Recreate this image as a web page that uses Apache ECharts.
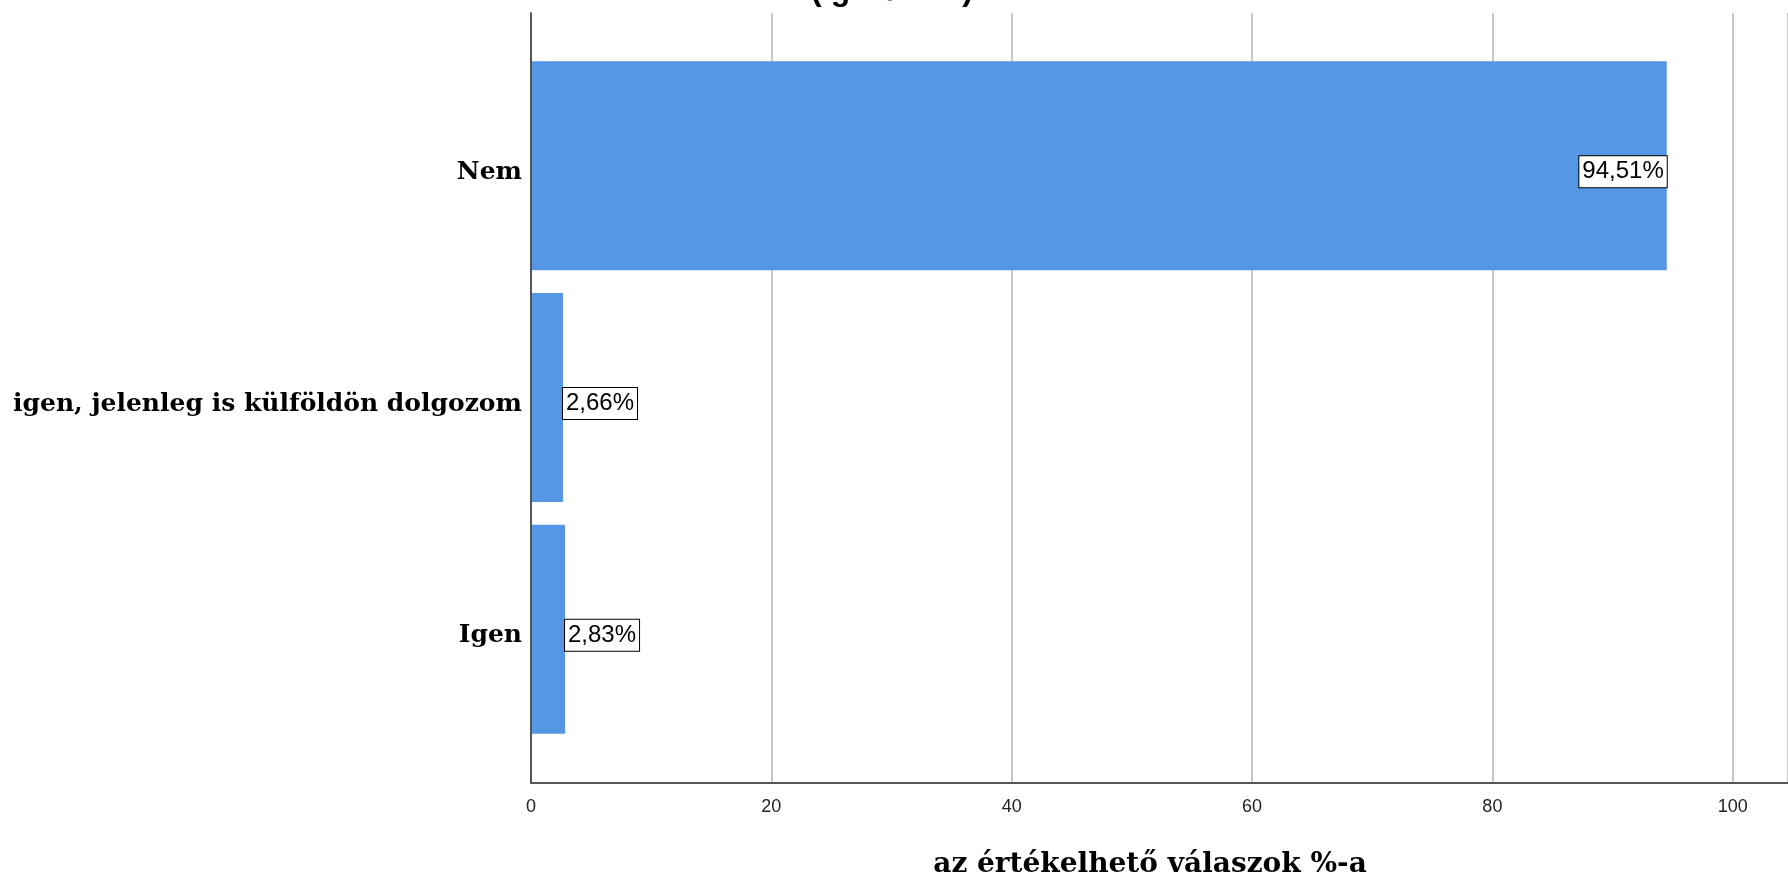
<!DOCTYPE html>
<html>
<head>
<meta charset="utf-8">
<script src="https://cdn.jsdelivr.net/npm/echarts@6/dist/echarts.min.js"></script>
<style>
html,body{margin:0;padding:0;background:#fff;}
#chart{width:1788px;height:877px;}
</style>
</head>
<body>
<div id="chart"></div>
<script>
// Data
const categories = ['Nem', 'igen, jelenleg is külföldön dolgozom', 'Igen'];
const percentValues = [94.51, 2.66, 2.83];
const xTickValues = [0, 20, 40, 60, 80, 100];
const chartTitle = '(igen/nem)';
const xAxisTitle = 'az értékelhető válaszok %-a';

const serif = '"DejaVu Serif", serif';
const sans = '"Liberation Sans", Arial, sans-serif';
const xMax = 104.6;

const barData = percentValues.map(v => ({
  value: v,
  label: v > 50 ? { position: 'insideRight', distance: 0 } : { position: 'right', distance: 0 }
}));

const chart = echarts.init(document.getElementById('chart'));
chart.setOption({
  animation: false,
  backgroundColor: '#ffffff',
  grid: [
    { left: 531, right: 0, top: 13, bottom: 94 },
    { left: 531, right: 0, top: 50, bottom: 132 }
  ],
  xAxis: [
    {
      gridIndex: 0, type: 'value', min: 0, max: xMax, interval: 20,
      axisLine: { show: true, lineStyle: { color: '#555', width: 2 } },
      axisTick: { show: false },
      axisLabel: {
        showMaxLabel: false, margin: 15, color: '#222',
        fontFamily: sans, fontSize: 18,
        formatter: v => xTickValues.includes(v) ? String(v) : ''
      },
      splitLine: { show: true, lineStyle: { color: '#c8c8c8', width: 2 } }
    },
    {
      gridIndex: 1, type: 'value', min: 0, max: xMax, show: false
    }
  ],
  yAxis: [
    {
      gridIndex: 0, type: 'value', min: 0, max: 1, z: 5,
      axisLine: { show: true, lineStyle: { color: '#555', width: 2 } },
      axisTick: { show: false }, axisLabel: { show: false }, splitLine: { show: false }
    },
    {
      gridIndex: 1, type: 'category', data: categories, inverse: true,
      axisLine: { show: false }, axisTick: { show: false }, splitLine: { show: false },
      axisLabel: {
        margin: 9,
        formatter: v => '{c|' + v + '}',
        rich: {
          c: { color: '#000', fontFamily: serif, fontWeight: 'bold', fontSize: 25, padding: [13, 0, 0, 0] }
        }
      }
    }
  ],
  series: [
    {
      type: 'bar', xAxisIndex: 1, yAxisIndex: 1, barWidth: 209,
      itemStyle: { color: '#5596E5' },
      data: barData,
      label: {
        show: true,
        formatter: p => p.value.toFixed(2).replace('.', ',') + '%',
        fontFamily: sans, fontSize: 24, color: '#000',
        backgroundColor: '#fff', borderColor: '#000', borderWidth: 1,
        padding: [4, 3, 3, 3], offset: [0, 6]
      }
    }
  ],
  graphic: [
    {
      type: 'text', x: 892, y: 7,
      style: { text: chartTitle, fontFamily: sans, fontWeight: 'bold', fontSize: 32,
        fill: '#000', textAlign: 'center', textVerticalAlign: 'bottom' }
    },
    {
      type: 'text', x: 1150, y: 865,
      style: { text: xAxisTitle, fontFamily: serif, fontWeight: 'bold', fontSize: 28,
        fill: '#000', textAlign: 'center', textVerticalAlign: 'middle' }
    }
  ]
});
</script>
</body>
</html>
